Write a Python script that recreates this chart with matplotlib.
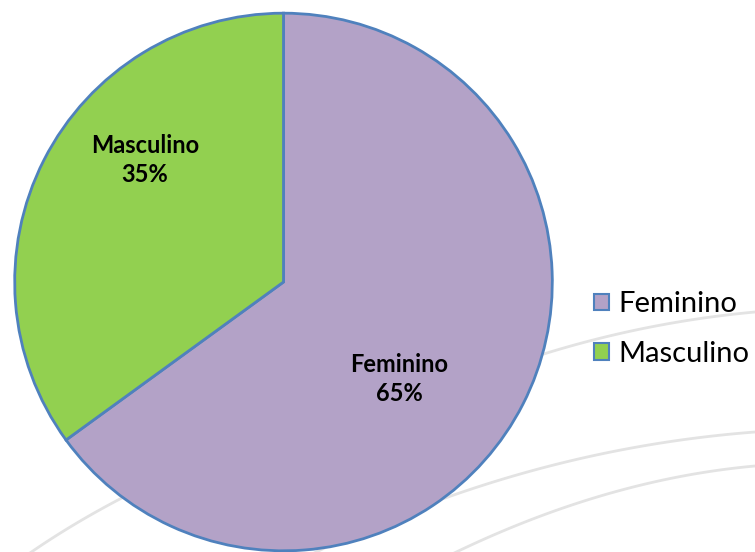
import matplotlib.pyplot as plt
import numpy as np

# data
labels = ['Feminino', 'Masculino']
values = [65, 35]
colors = ['#B3A2C7', '#92D050']
edge = '#4F81BD'

fig = plt.figure(figsize=(7.55, 5.52), dpi=100)

# faint decorative background arcs (pixel coords, y down)
bg = fig.add_axes([0, 0, 1, 1])
bg.set_xlim(0, 755)
bg.set_ylim(552, 0)
bg.axis('off')
arcs = [
    ((380, 420), (560, 330), (755, 312)),
    ((300, 560), (520, 450), (755, 432)),
    ((440, 560), (600, 480), (755, 466)),
    ((20, 560), (90, 510), (180, 470)),
]
t = np.linspace(0, 1, 100)
for p0, p1, p2 in arcs:
    p0, p1, p2 = map(np.array, (p0, p1, p2))
    pts = np.outer((1 - t) ** 2, p0) + np.outer(2 * (1 - t) * t, p1) + np.outer(t ** 2, p2)
    bg.plot(pts[:, 0], pts[:, 1], color='#E3E3E3', lw=2, zorder=0)

# pie
W, H = 755, 552
cx, cy, r = 283.5, 282, 271.5
ax = fig.add_axes([(cx - r) / W, (H - cy - r) / H, 2 * r / W, 2 * r / H])
wedges, _ = ax.pie(values, colors=colors, startangle=90, counterclock=False,
                   wedgeprops=dict(edgecolor=edge, linewidth=2), radius=1)
ax.set_xlim(-1.01, 1.01)
ax.set_ylim(-1.01, 1.01)
ax.set_aspect('equal')
ax.axis('off')

font = 'Lato'
label_pos = [(0.43, -0.36), (-0.515, 0.455)]
for lab, v, (x, y) in zip(labels, values, label_pos):
    ax.text(x, y, f'{lab}\n{v}%', ha='center', va='center', fontsize=17,
            fontweight='bold', family=font, linespacing=1.3)

leg = fig.legend(wedges, labels, loc='center left', bbox_to_anchor=(594 / W, 1 - 329 / H),
                 frameon=False, prop={'family': font, 'size': 21},
                 handlelength=0.5, handleheight=0.5, handletextpad=0.35,
                 labelspacing=0.8, borderaxespad=0, borderpad=0)
for h in leg.legend_handles:
    h.set_linewidth(1.5)

fig.savefig('out.png', dpi=100)
